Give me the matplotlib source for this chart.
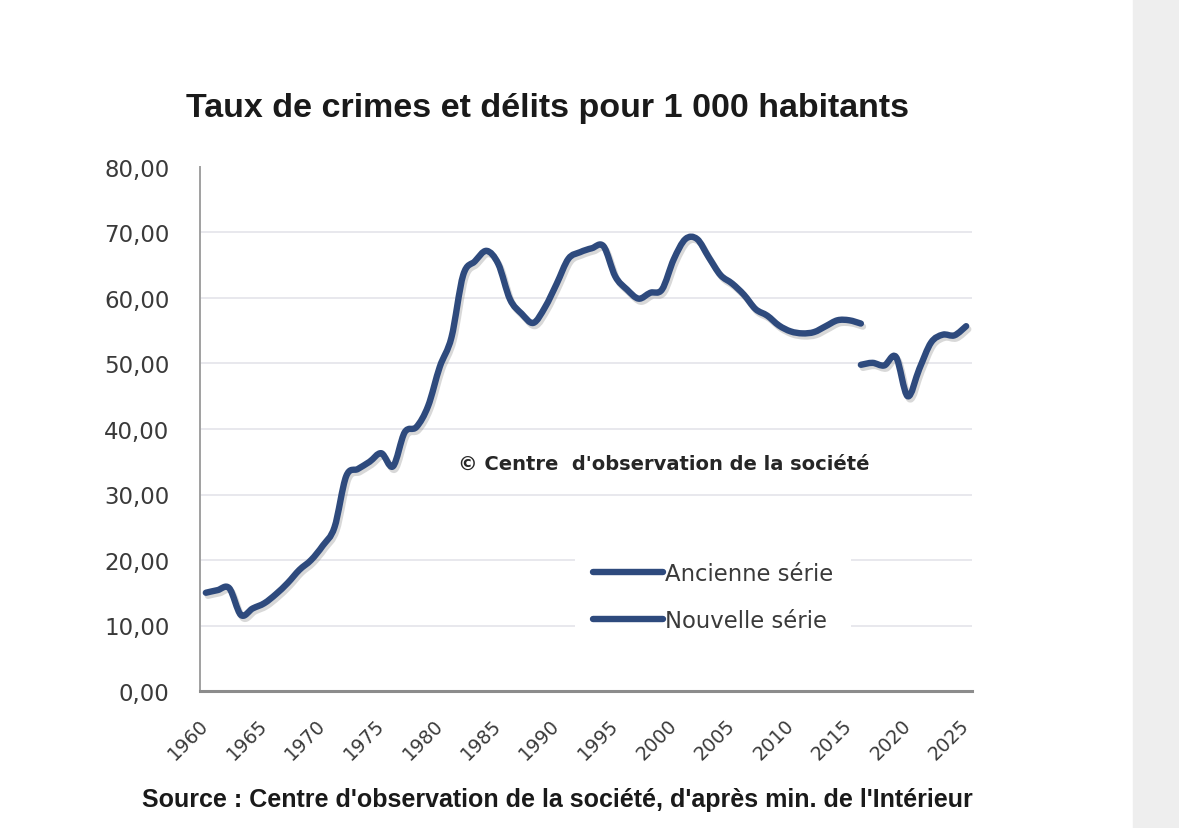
import matplotlib
matplotlib.use("Agg")
import matplotlib.pyplot as plt
import matplotlib.patheffects as pe
from matplotlib.patches import Rectangle, PathPatch
from matplotlib.path import Path
from matplotlib.lines import Line2D
from matplotlib.ticker import FuncFormatter

# Values (crimes et délits pour 1 000 habitants)
years_old = list(range(1960, 2017))
rate_old = [15.0, 15.4, 15.7, 11.6, 12.6, 13.4, 14.8, 16.5, 18.5, 20.0,
            22.2, 25.0, 32.8, 33.9, 35.0, 36.3, 34.3, 39.5, 40.3, 43.5,
            49.5, 54.0, 63.5, 65.6, 67.2, 65.2, 59.8, 57.6, 56.2, 58.6,
            62.2, 66.0, 67.0, 67.6, 67.9, 63.3, 61.3, 59.9, 60.8, 61.3,
            65.9, 69.0, 69.0, 66.2, 63.5, 62.2, 60.5, 58.3, 57.3, 55.8,
            54.9, 54.6, 54.8, 55.7, 56.6, 56.6, 56.1]

years_new = list(range(2016, 2026))
rate_new = [49.8, 50.1, 49.7, 51.0, 45.0, 49.2, 53.2, 54.4, 54.3, 55.7]

x_ticks = list(range(1960, 2030, 5))
y_ticks = list(range(0, 90, 10))

title = "Taux de crimes et délits pour 1 000 habitants"
watermark = "© Centre  d'observation de la société"
source = "Source : Centre d'observation de la société, d'après min. de l'Intérieur"
labels = ["Ancienne série", "Nouvelle série"]

navy = "#2E4A7D"
lw = 4.6


def smooth_path(xs, ys):
    # Excel-style smoothed line: cubic Bezier through every data point
    pts = list(zip(xs, ys))
    verts = [pts[0]]
    codes = [Path.MOVETO]
    n = len(pts)
    for i in range(n - 1):
        p0 = pts[i - 1] if i > 0 else pts[i]
        p1 = pts[i]
        p2 = pts[i + 1]
        p3 = pts[i + 2] if i + 2 < n else pts[i + 1]
        c1 = (p1[0] + (p2[0] - p0[0]) / 6, p1[1] + (p2[1] - p0[1]) / 6)
        c2 = (p2[0] - (p3[0] - p1[0]) / 6, p2[1] - (p3[1] - p1[1]) / 6)
        verts += [c1, c2, p2]
        codes += [Path.CURVE4] * 3
    return Path(verts, codes)


fig = plt.figure(figsize=(11.79, 8.29), dpi=100)
fig.patch.set_facecolor("white")
# grey strip on the right edge of the screenshot
fig.patches.append(Rectangle((1133 / 1179, 0), 1 - 1133 / 1179, 1,
                             transform=fig.transFigure, color="#EEEEEE", zorder=0))

ax = fig.add_axes([200 / 1179, 1 - 692 / 829, (972 - 200) / 1179, (692 - 168) / 829])

shadow = [pe.SimpleLineShadow(offset=(1.5, -2.2), shadow_color="#7f7f7f", alpha=0.3),
          pe.Normal()]
for xs, ys in [(years_old, rate_old), (years_new, rate_new)]:
    ax.add_patch(PathPatch(smooth_path(xs, ys), fill=False, edgecolor=navy, lw=lw,
                           capstyle="round", joinstyle="round",
                           path_effects=shadow, zorder=3))

ax.set_xlim(1959.5, 2025.5)
ax.set_ylim(0, 80)
ax.set_yticks(y_ticks)
ax.set_xticks(x_ticks)
ax.yaxis.set_major_formatter(FuncFormatter(lambda v, p: f"{v:.2f}".replace(".", ",")))

for s in ["top", "right"]:
    ax.spines[s].set_visible(False)
ax.spines["left"].set_color("#A0A0A0")
ax.spines["left"].set_linewidth(1.4)
ax.spines["bottom"].set_color("#8C8C8C")
ax.spines["bottom"].set_linewidth(2.2)

ax.tick_params(axis="both", length=0)
ax.tick_params(axis="y", pad=22, labelsize=16.5, labelcolor="#3A3A3A")
ax.tick_params(axis="x", pad=22, labelsize=13.8, labelcolor="#3A3A3A")
for lab in ax.get_xticklabels():
    lab.set_rotation(45)
    lab.set_ha("right")
    lab.set_va("center")
    lab.set_rotation_mode("anchor")

ax.grid(axis="y", color="#E6E6EC", lw=1.3, zorder=0)
ax.set_axisbelow(True)
gl = ax.get_ygridlines()
gl[0].set_visible(False)
gl[-1].set_visible(False)

ax.text(0.601, 0.434, watermark, transform=ax.transAxes, ha="center", va="center",
        fontsize=14, fontweight="bold", color="#262626")

handles = [Line2D([], [], color=navy, lw=lw, solid_capstyle="round") for _ in labels]
leg = ax.legend(handles, labels, loc="center left", bbox_to_anchor=(0.471, 0.179),
                frameon=True, facecolor="white", edgecolor="none", framealpha=1,
                fancybox=False, fontsize=16.4, handlelength=3.07, handletextpad=0.1,
                labelspacing=1.04, borderpad=0.79)
for t in leg.get_texts():
    t.set_color("#3A3A3A")
leg.set_zorder(2)

fig.text(548 / 1179, 1 - 108 / 829, title, ha="center", va="center",
         fontsize=24.5, fontweight="bold", family="Liberation Sans", color="#1A1A1A")
fig.text(557 / 1179, 1 - 800 / 829, source, ha="center", va="center",
         fontsize=18, fontweight="bold", family="Liberation Sans", color="#1A1A1A")

fig.savefig("out.png", dpi=100)
